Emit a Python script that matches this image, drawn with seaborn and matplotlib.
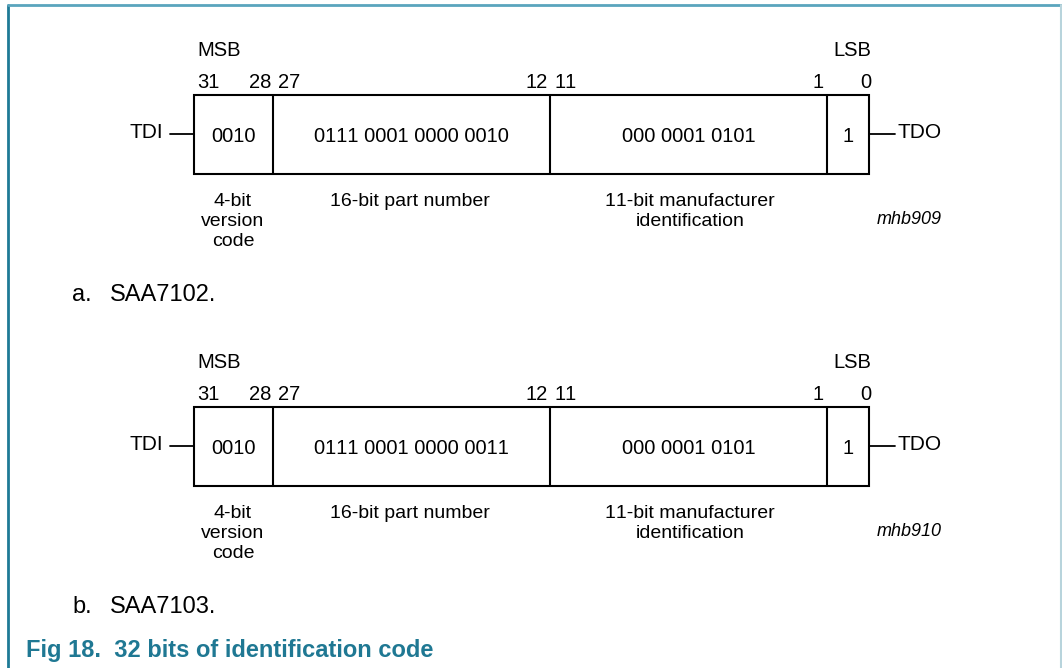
import seaborn as sns
import matplotlib.pyplot as plt
from matplotlib.patches import Rectangle

### datos ###
bit_labels = ['31', '28', '27', '12', '11', '1', '0']
field_names = ['4-bit\nversion\ncode', '16-bit part number',
               '11-bit manufacturer\nidentification', '']
values_a = ['0010', '0111 0001 0000 0010', '000 0001 0101', '1']
values_b = ['0010', '0111 0001 0000 0011', '000 0001 0101', '1']
parts = ['SAA7102.', 'SAA7103.']
fig_codes = ['mhb909', 'mhb910']
title = 'Fig 18.  32 bits of identification code'

### layout (pixeles) ###
edges = [194, 273, 550, 827, 869]
bit_x = [208, 260, 289, 537, 566, 818, 866]
desc_x = [233, 410, 690]
box_h = 79
tops = [95, 407]

sns.set_theme(style='white')
plt.rcParams['font.family'] = ['Liberation Sans', 'DejaVu Sans']
plt.rcParams['text.color'] = 'black'
plt.rcParams['text.kerning_factor'] = 20  # sin kerning, digitos parejos

fig = plt.figure(figsize=(10.62, 6.68), dpi=100)
ax = fig.add_axes([0, 0, 1, 1])
ax.set_xlim(0, 1062)
ax.set_ylim(668, 0)
ax.axis('off')

fs = 14.5
for k, (vals, top) in enumerate(zip([values_a, values_b], tops)):
    bot = top + box_h
    mid = top + box_h / 2
    ax.add_patch(Rectangle((edges[0], top), edges[-1] - edges[0], box_h,
                           fill=False, lw=1.5, ec='black'))
    for xe in edges[1:-1]:
        ax.plot([xe, xe], [top, bot], color='black', lw=1.5)
    ax.text(219, top - 44, 'MSB', fontsize=fs, ha='center', va='center')
    ax.text(852, top - 44, 'LSB', fontsize=fs, ha='center', va='center')
    for xb, lab in zip(bit_x, bit_labels):
        ax.text(xb, top - 12, lab, fontsize=fs, ha='center', va='center')
    for i, v in enumerate(vals):
        xc = (edges[i] + edges[i + 1]) / 2
        ax.text(xc, mid + 2, v, fontsize=fs, ha='center', va='center')
    # TDI / TDO
    ax.plot([170, edges[0]], [mid - 1, mid - 1], color='black', lw=1.3)
    ax.text(146, mid - 2, 'TDI', fontsize=15, ha='center', va='center')
    ax.plot([edges[-1], 895], [mid - 1, mid - 1], color='black', lw=1.3)
    ax.text(897, mid - 2, 'TDO', fontsize=15, ha='left', va='center')
    # descripciones
    for xd, name in zip(desc_x, field_names[:3]):
        ax.text(xd, bot + 19, name, fontsize=14, ha='center',
                va='top', linespacing=1.24)
    ax.text(909, bot + 46, fig_codes[k], fontsize=13, ha='center',
            va='center', style='italic')
    ax.text(72, bot + 121, 'a.' if k == 0 else 'b.', fontsize=17,
            ha='left', va='center')
    ax.text(110, bot + 121, parts[k], fontsize=17, ha='left', va='center')

ax.text(26, 650, title, fontsize=17, fontweight='bold', color='#1f7893',
        ha='left', va='center')

# marco
ax.plot([8, 8], [5, 668], color='#1e7a96', lw=2)
ax.plot([8, 1061], [5, 5], color='#5aa5bd', lw=2)
ax.plot([1061, 1061], [5, 668], color='#b8d4dc', lw=1.5)

fig.savefig('out.png', dpi=100)
